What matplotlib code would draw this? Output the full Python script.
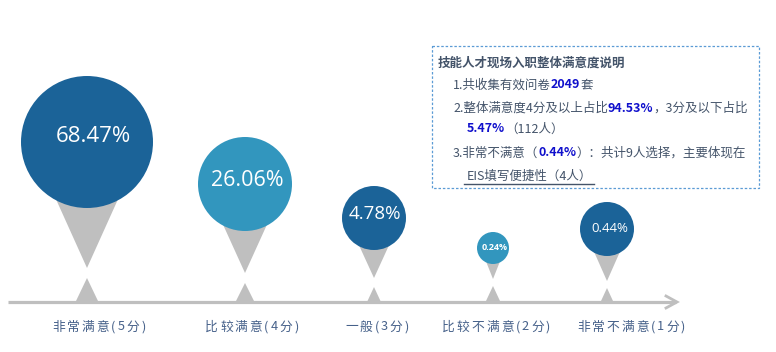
import matplotlib
matplotlib.use("Agg")
import matplotlib.pyplot as plt
from matplotlib.patches import Circle, Polygon, Rectangle

plt.rcParams['font.family'] = ['Noto Sans CJK SC', 'DejaVu Sans']

# ---- data ----
categories = ['非常满意(5分)', '比较满意(4分)', '一般(3分)', '比较不满意(2分)', '非常不满意(1分)']
values = [68.47, 26.06, 4.78, 0.24, 0.44]

box_title = '技能人才现场入职整体满意度说明'
total_count = 2049
share_high = 94.53
share_low = 5.47
low_people = 112
very_low_share = 0.44
very_low_people = 9
issue_people = 4

# ---- layout / style ----
cx = [87, 245, 374, 493, 607]          # bubble centre x (px)
cy = [142, 184, 218, 248, 229]         # bubble centre y (px)
rad = [66, 47, 32, 16, 27]             # bubble radius
tri_hw = [31, 22, 15, 7, 13]           # pointer half width
tri_tip = [268, 273, 278, 279, 281]    # pointer tip y
mark_apex = [278, 283, 287, 286, 288]  # small axis marker apex
mark_hw = [11, 9, 6.5, 7, 6]
label_x = [99, 252, 377, 496, 631]
txt_dx = [6, 2, 1, 2, 3]
txt_dy = [-5, -4, -4, -1, -1]
fills = ['#1B6398', '#3296BE', '#1B6398', '#3296BE', '#1B6398']
val_fs = [16, 15.5, 13.5, 6.5, 9.5]
val_bold = [False, False, False, True, False]
GRAY = '#BFBFBF'
TXT = '#44546A'
LAB = '#46618A'
BLUE = '#1010CC'
AXIS_Y = 302

fig = plt.figure(figsize=(7.76, 3.52), dpi=100)
ax = fig.add_axes([0, 0, 1, 1])
ax.set_xlim(0, 776)
ax.set_ylim(352, 0)
ax.axis('off')

# axis line with arrow
ax.plot([8, 676], [AXIS_Y, AXIS_Y], color=GRAY, lw=2.3, solid_capstyle='butt', zorder=1)
ax.plot([666, 677, 666], [AXIS_Y - 6, AXIS_Y, AXIS_Y + 6], color=GRAY, lw=2.0,
        solid_joinstyle='miter', zorder=1)

for i, v in enumerate(values):
    x, y, r, hw = cx[i], cy[i], rad[i], tri_hw[i]
    top = y + (r ** 2 - hw ** 2) ** 0.5 - 1
    ax.add_patch(Polygon([(x - hw, top), (x + hw, top), (x, tri_tip[i])],
                         closed=True, facecolor=GRAY, edgecolor='none', zorder=2))
    ax.add_patch(Circle((x, y), r, facecolor=fills[i], edgecolor='none', zorder=3))
    ax.add_patch(Polygon([(x - mark_hw[i], AXIS_Y - 1), (x + mark_hw[i], AXIS_Y - 1), (x, mark_apex[i])],
                         closed=True, facecolor=GRAY, edgecolor='none', zorder=2))
    ax.text(x + txt_dx[i], y + txt_dy[i], f'{v:.2f}%', color='white', fontsize=val_fs[i],
            ha='center', va='center', family=['Open Sans', 'DejaVu Sans'],
            fontweight='bold' if val_bold[i] else 'normal', zorder=4)

fig.canvas.draw()
renderer = fig.canvas.get_renderer()


def text_width(t):
    return t.get_window_extent(renderer=renderer).width


# spaced category labels
LAB_FS = 9.2
SPACING = 2.0
for i, lab in enumerate(categories):
    arts = []
    widths = []
    for ch in lab:
        t = ax.text(0, 327, ch, fontsize=LAB_FS, color=LAB, ha='left', va='center')
        arts.append(t)
        widths.append(text_width(t))
    total = sum(widths) + SPACING * (len(lab) - 1)
    x0 = label_x[i] - total / 2
    for t, w in zip(arts, widths):
        t.set_x(x0)
        x0 += w + SPACING

# text box
ax.add_patch(Rectangle((432, 46), 327, 142, facecolor='none', edgecolor='#5B9BD5',
                       lw=0.9, ls=(0, (2, 1.5)), zorder=1))


def runs(x, y, parts, fs=9):
    for txt, bold, col in parts:
        t = ax.text(x, y, txt, fontsize=fs, color=col, ha='left', va='center',
                    fontweight='bold' if bold else 'normal')
        x += text_width(t)
    return x


runs(438, 63, [(box_title, True, TXT)], fs=9)
runs(453, 85, [('1.共收集有效问卷', False, TXT), (str(total_count), True, BLUE), ('套', False, TXT)])
runs(453, 108, [('2.整体满意度4分及以上占比', False, TXT), (f'{share_high:.2f}%', True, BLUE),
                ('，3分及以下占比', False, TXT)])
runs(467, 129, [(f'{share_low:.2f}%', True, BLUE), (f'（{low_people}人）', False, TXT)])
runs(453, 153, [('3.非常不满意（', False, TXT), (f'{very_low_share:.2f}%', True, BLUE),
                (f'）：共计{very_low_people}人选择，主要体现在', False, TXT)])
xe = runs(467, 176, [(f'EIS填写便捷性（{issue_people}人）', False, TXT)])
ax.plot([464, xe + 2], [184, 184], color=TXT, lw=1.0)

fig.savefig('out.png', dpi=100)
